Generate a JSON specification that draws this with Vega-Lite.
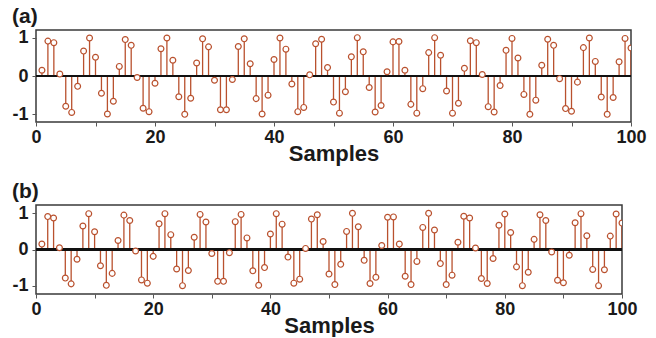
{
  "$schema": "https://vega.github.io/schema/vega-lite/v6.json",
  "padding": {"left": 11, "top": 4, "right": 10, "bottom": 0},
  "datasets": {
    "sig": [
      {"n": 1, "v": 0.15}, {"n": 2, "v": 0.91}, {"n": 3, "v": 0.87}, {"n": 4, "v": 0.05}, {"n": 5, "v": -0.79},
      {"n": 6, "v": -0.95}, {"n": 7, "v": -0.27}, {"n": 8, "v": 0.65}, {"n": 9, "v": 0.99}, {"n": 10, "v": 0.49},
      {"n": 11, "v": -0.45}, {"n": 12, "v": -0.99}, {"n": 13, "v": -0.66}, {"n": 14, "v": 0.25}, {"n": 15, "v": 0.95},
      {"n": 16, "v": 0.8}, {"n": 17, "v": -0.04}, {"n": 18, "v": -0.84}, {"n": 19, "v": -0.93}, {"n": 20, "v": -0.19},
      {"n": 21, "v": 0.71}, {"n": 22, "v": 0.99}, {"n": 23, "v": 0.41}, {"n": 24, "v": -0.54}, {"n": 25, "v": -1.0},
      {"n": 26, "v": -0.58}, {"n": 27, "v": 0.34}, {"n": 28, "v": 0.97}, {"n": 29, "v": 0.76}, {"n": 30, "v": -0.11},
      {"n": 31, "v": -0.88}, {"n": 32, "v": -0.88}, {"n": 33, "v": -0.09}, {"n": 34, "v": 0.77}, {"n": 35, "v": 0.97},
      {"n": 36, "v": 0.32}, {"n": 37, "v": -0.59}, {"n": 38, "v": -0.99}, {"n": 39, "v": -0.5}, {"n": 40, "v": 0.43},
      {"n": 41, "v": 0.99}, {"n": 42, "v": 0.7}, {"n": 43, "v": -0.21}, {"n": 44, "v": -0.93}, {"n": 45, "v": -0.82},
      {"n": 46, "v": 0.03}, {"n": 47, "v": 0.84}, {"n": 48, "v": 0.96}, {"n": 49, "v": 0.22}, {"n": 50, "v": -0.68},
      {"n": 51, "v": -0.97}, {"n": 52, "v": -0.41}, {"n": 53, "v": 0.5}, {"n": 54, "v": 1.0}, {"n": 55, "v": 0.63},
      {"n": 56, "v": -0.3}, {"n": 57, "v": -0.94}, {"n": 58, "v": -0.77}, {"n": 59, "v": 0.11}, {"n": 60, "v": 0.89},
      {"n": 61, "v": 0.9}, {"n": 62, "v": 0.15}, {"n": 63, "v": -0.74}, {"n": 64, "v": -0.97}, {"n": 65, "v": -0.33},
      {"n": 66, "v": 0.61}, {"n": 67, "v": 1.0}, {"n": 68, "v": 0.54}, {"n": 69, "v": -0.39}, {"n": 70, "v": -0.97},
      {"n": 71, "v": -0.71}, {"n": 72, "v": 0.2}, {"n": 73, "v": 0.92}, {"n": 74, "v": 0.87}, {"n": 75, "v": 0.04},
      {"n": 76, "v": -0.8}, {"n": 77, "v": -0.94}, {"n": 78, "v": -0.25}, {"n": 79, "v": 0.67}, {"n": 80, "v": 0.98},
      {"n": 81, "v": 0.47}, {"n": 82, "v": -0.48}, {"n": 83, "v": -1.0}, {"n": 84, "v": -0.63}, {"n": 85, "v": 0.28},
      {"n": 86, "v": 0.96}, {"n": 87, "v": 0.8}, {"n": 88, "v": -0.07}, {"n": 89, "v": -0.85}, {"n": 90, "v": -0.92},
      {"n": 91, "v": -0.16}, {"n": 92, "v": 0.74}, {"n": 93, "v": 0.99}, {"n": 94, "v": 0.38}, {"n": 95, "v": -0.55},
      {"n": 96, "v": -1.0}, {"n": 97, "v": -0.56}, {"n": 98, "v": 0.37}, {"n": 99, "v": 0.98}, {"n": 100, "v": 0.73}
    ]
  },
  "config": {
    "font": "Liberation Sans",
    "view": {"stroke": "#3a3a3a", "strokeWidth": 1.5},
    "axis": {
      "grid": false, "domain": false, "tickColor": "#555555", "tickSize": 4, "tickWidth": 1,
      "labelFont": "Liberation Sans", "labelFontSize": 18, "labelFontWeight": "bold", "labelColor": "#1a1a1a",
      "titleFont": "Liberation Sans", "titleFontSize": 22, "titleFontWeight": "bold", "titleColor": "#1a1a1a"
    },
    "title": {"font": "Liberation Sans", "fontSize": 21, "fontWeight": "bold", "anchor": "start", "color": "#1a1a1a", "offset": 2},
    "concat": {"spacing": 15}
  },
  "vconcat": [
    {
      "title": "(a)",
      "width": 595,
      "height": 92,
      "data": {"name": "sig"},
      "layer": [
        {
          "mark": {"type": "rule", "color": "#b9512e", "strokeWidth": 1.3, "clip": true},
          "encoding": {
            "x": {"field": "n", "type": "quantitative", "scale": {"domain": [0, 100], "nice": false},
              "axis": {"values": [0, 10, 20, 30, 40, 50, 60, 70, 80, 90, 100], "labelExpr": "datum.value % 20 == 0 ? datum.label : ''", "title": "Samples", "labelPadding": 2, "titlePadding": -3, "labelFlush": false}},
            "y": {"field": "v", "type": "quantitative", "scale": {"domain": [-1.2, 1.2], "nice": false, "zero": false},
              "axis": {"values": [-1, -0.5, 0, 0.5, 1], "labelExpr": "datum.value == 1 ? '1' : datum.value == 0 ? '0' : datum.value == -1 ? '-1' : ''", "title": null, "labelPadding": 4}},
            "y2": {"datum": 0}
          }
        },
        {
          "mark": {"type": "rule", "color": "#111111", "strokeWidth": 1.3},
          "encoding": {"y": {"datum": 0, "type": "quantitative"}}
        },
        {
          "mark": {"type": "point", "shape": "circle", "filled": true, "fill": "#ffffff", "stroke": "#b9512e", "strokeWidth": 1.2, "size": 34, "opacity": 1, "clip": true},
          "encoding": {
            "x": {"field": "n", "type": "quantitative"},
            "y": {"field": "v", "type": "quantitative"}
          }
        }
      ]
    },
    {
      "title": "(b)",
      "width": 586,
      "height": 89,
      "data": {"name": "sig"},
      "layer": [
        {
          "mark": {"type": "rule", "color": "#b9512e", "strokeWidth": 1.3, "clip": true},
          "encoding": {
            "x": {"field": "n", "type": "quantitative", "scale": {"domain": [0, 100], "nice": false},
              "axis": {"values": [0, 10, 20, 30, 40, 50, 60, 70, 80, 90, 100], "labelExpr": "datum.value % 20 == 0 ? datum.label : ''", "title": "Samples", "labelPadding": 2, "titlePadding": -3, "labelFlush": false}},
            "y": {"field": "v", "type": "quantitative", "scale": {"domain": [-1.23, 1.23], "nice": false, "zero": false},
              "axis": {"values": [-1, -0.5, 0, 0.5, 1], "labelExpr": "datum.value == 1 ? '1' : datum.value == 0 ? '0' : datum.value == -1 ? '-1' : ''", "title": null, "labelPadding": 4}},
            "y2": {"datum": 0}
          }
        },
        {
          "mark": {"type": "rule", "color": "#111111", "strokeWidth": 1.3},
          "encoding": {"y": {"datum": 0, "type": "quantitative"}}
        },
        {
          "mark": {"type": "point", "shape": "circle", "filled": true, "fill": "#ffffff", "stroke": "#b9512e", "strokeWidth": 1.2, "size": 34, "opacity": 1, "clip": true},
          "encoding": {
            "x": {"field": "n", "type": "quantitative"},
            "y": {"field": "v", "type": "quantitative"}
          }
        }
      ]
    }
  ]
}
